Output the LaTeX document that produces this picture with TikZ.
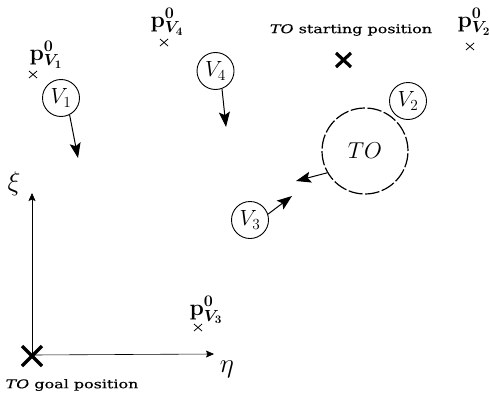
\documentclass[tikz,border=0pt]{standalone}
\usepackage{fix-cm}
\usepackage[no-math]{fontspec}
\setmainfont{DejaVu Serif}[FakeStretch=1.33,FakeBold=0.2]
\usepackage{bm}
\usetikzlibrary{arrows.meta}
\begin{document}
\begin{tikzpicture}[x={(1pt,0)},y={(0,-1pt)},
  veh/.style={circle,draw,line width=0.9pt,minimum size=37pt,inner sep=0pt,font=\fontsize{22}{24}\selectfont},
  to/.style={circle,draw,line width=1.2pt,dash pattern=on 14.4pt off 2.5pt,minimum size=86pt,inner sep=0pt,font=\fontsize{23}{24}\selectfont},
  mov/.style={line width=1pt,-{Stealth[length=15pt,width=11pt,inset=3pt]}},
  axis/.style={line width=0.6pt,-{Stealth[length=8pt,width=7pt,inset=1.5pt]}},
  lbl/.style={inner sep=0pt,font=\fontsize{12}{14}\selectfont},
  plbl/.style={inner sep=0pt,font=\fontsize{23}{24}\selectfont},
  bigx/.style={line width=3.2pt},
  smallx/.style={line width=0.8pt}]
\useasboundingbox (0,0) rectangle (489,396);
% axes
\coordinate (O) at (32,355);
\coordinate (xi) at (32,193);
\coordinate (eta) at (214,354);
\draw[axis] (O) -- (xi);
\draw[axis] (O) -- (eta);
\node[inner sep=0pt,font=\fontsize{27}{28}\selectfont] (xil) at (14,184) {$\xi$};
\node[inner sep=0pt,font=\fontsize{27}{28}\selectfont] (etal) at (227,369) {$\eta$};
% goal X
\draw[bigx] (22,346) -- (42,366) (22,366) -- (42,346);
\node[lbl] (goal) at (72,385) {\textit{TO} goal position};
% start X
\draw[bigx] (336,53) -- (351,67) (336,67) -- (351,53);
\node[lbl] (start) at (351,30) {\textit{TO} starting position};
% initial positions
\node[plbl] (p1) at (46,55) {$\mathbf{p}^{\mathbf{0}}_{\bm{V_1}}$};
\draw[smallx] (29,71) -- (37,78) (29,78) -- (37,71);
\node[plbl] (p4) at (167,22) {$\mathbf{p}^{\mathbf{0}}_{\bm{V_4}}$};
\draw[smallx] (160,39) -- (168,46) (160,46) -- (168,39);
\node[plbl] (p2) at (474,22) {$\mathbf{p}^{\mathbf{0}}_{\bm{V_2}}$};
\draw[smallx] (466,43) -- (474,50) (466,50) -- (474,43);
\node[plbl] (p3) at (206,310) {$\mathbf{p}^{\mathbf{0}}_{\bm{V_3}}$};
\draw[smallx] (194,324) -- (202,331) (194,331) -- (202,324);
% vehicles
\node[veh] (v1) at (61,98) {$V_1$};
\node[veh] (v4) at (215.5,71) {$V_4$};
\node[veh] (v2) at (408,101) {$V_2$};
\node[veh] (v3) at (250,220) {$V_3$};
\node[to] (TO) at (365,151) {$TO$};
% motion arrows
\coordinate (v1e) at (78,158);
\coordinate (v4e) at (226,127);
\coordinate (v3e) at (292,196);
\coordinate (toe) at (296,181);
\draw[mov] (v1.-63) -- (v1e);
\draw[mov] (v4.-70) -- (v4e);
\draw[mov] (v3.18) -- (v3e);
\draw[mov] (TO.210) -- (toe);
\end{tikzpicture}
\end{document}
